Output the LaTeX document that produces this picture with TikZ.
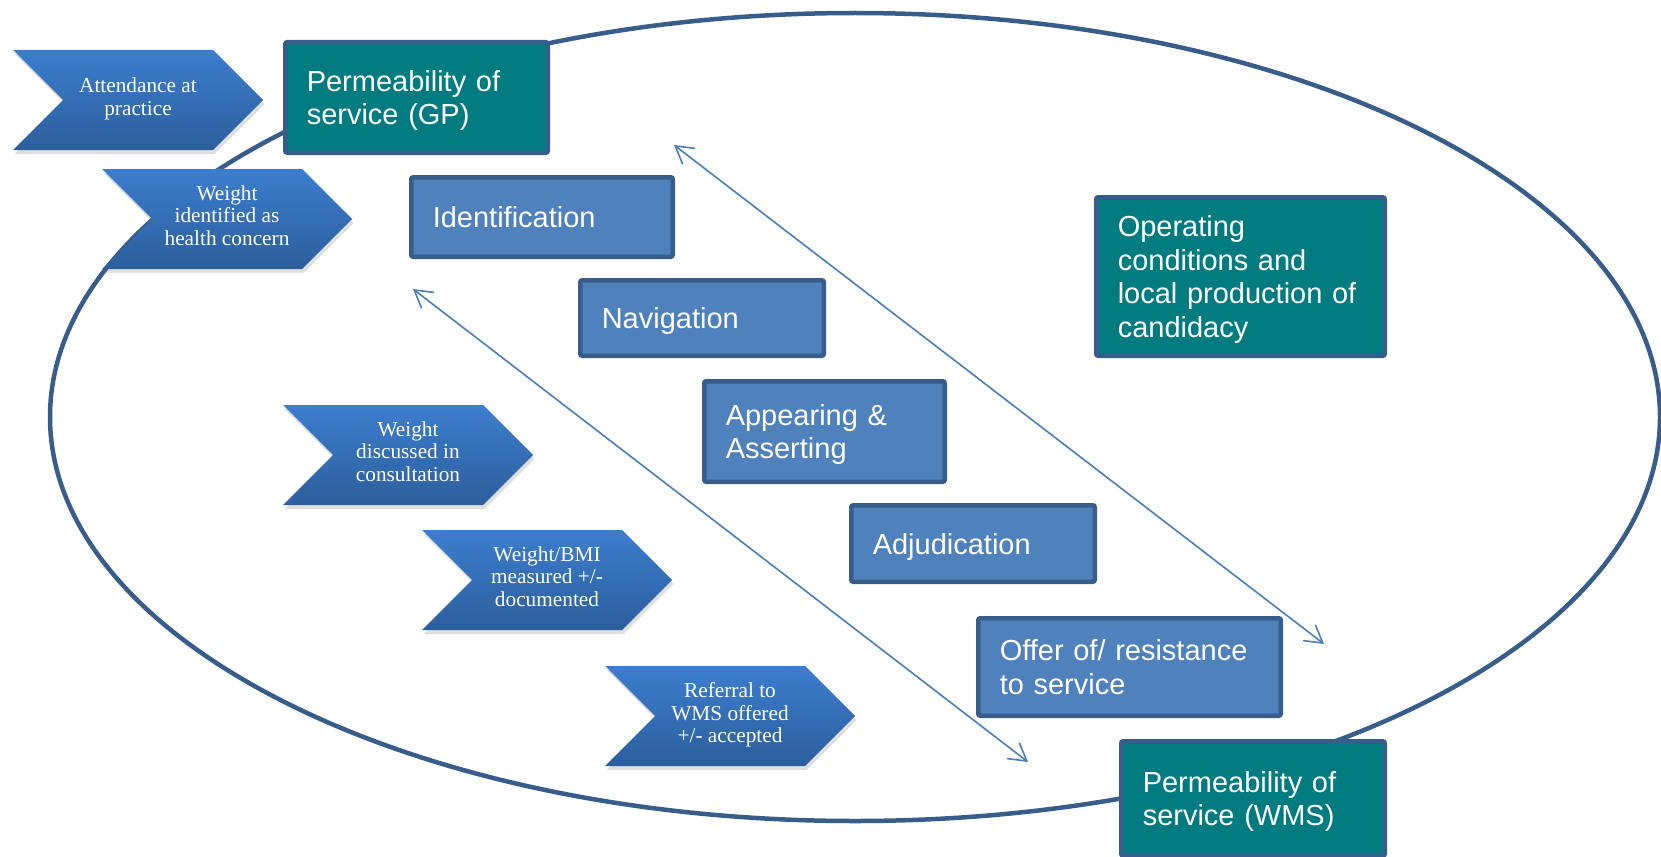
\documentclass[tikz,border=0pt]{standalone}
\usepackage{fontspec}
\setmainfont{Liberation Serif}
\newfontfamily\boxfont{Liberation Sans}
\usetikzlibrary{shapes.symbols,shadows,arrows.meta}
\pgfdeclarelayer{edgelayer}
\pgfdeclarelayer{nodelayer}
\pgfsetlayers{edgelayer,nodelayer,main}
\definecolor{rim}{RGB}{56,93,138}
\definecolor{stagefill}{RGB}{79,129,189}
\definecolor{tealfill}{RGB}{0,124,128}
\definecolor{chevtop}{RGB}{60,126,206}
\definecolor{chevbot}{RGB}{44,94,156}
\definecolor{arrowblue}{RGB}{74,126,187}
\newcommand\flatline[1]{\raisebox{0pt}[\height][0pt]{#1}}
\tikzstyle{none}=[inner sep=0pt]
\tikzstyle{stage}=[rectangle,draw=rim,fill=stagefill,line width=4.5pt,rounded corners=2pt,text=white,align=left,inner xsep=21.5pt,inner ysep=0pt,font=\boxfont\fontsize{29}{33.6}\selectfont]
\tikzstyle{perm}=[stage,fill=tealfill]
\tikzstyle{chev}=[signal,signal from=west,signal to=east,signal pointer angle=90,minimum width=250pt,minimum height=100pt,inner sep=0pt,top color=chevtop,bottom color=chevbot,text=white,align=center,font=\fontsize{21.3}{22.5}\selectfont,execute at end node={\rule[-7pt]{0pt}{7pt}},drop shadow={shadow xshift=1.5pt,shadow yshift=-4pt,opacity=0.25}]
\tikzstyle{ring}=[draw=rim,line width=4.5pt]
\tikzstyle{link}=[draw=arrowblue,line width=1.6pt,{Straight Barb[length=17pt,width=20pt]}-{Straight Barb[length=17pt,width=20pt]}]

\begin{document}
\begin{tikzpicture}[x=1pt,y=-1pt]
	\useasboundingbox (0,0) rectangle (1661,856);
	\begin{pgfonlayer}{nodelayer}
		\node [style=none] (0) at (855, 417) {};
		\node [style=chev] (1) at (138, 100) {Attendance at\\practice};
		\node [style=chev] (2) at (227, 219) {Weight\\identified as\\health concern};
		\node [style=chev] (3) at (408, 455) {Weight\\discussed in\\consultation};
		\node [style=chev] (4) at (547, 580) {Weight/BMI\\measured +/-\\documented};
		\node [style=chev] (5) at (730, 716) {Referral to\\WMS offered\\+/- accepted};
		\node [style=perm, text width=219.5pt, minimum height=110.5pt] (6) at (416.5, 97.5) {Permeability of\\\flatline{service (GP)}};
		\node [style=stage, text width=218.5pt, minimum height=79.5pt] (7) at (542, 217) {Identification};
		\node [style=stage, text width=200.5pt, minimum height=75.5pt] (8) at (702, 318) {\flatline{Navigation}};
		\node [style=stage, text width=197.5pt, minimum height=100.5pt] (9) at (824.5, 431.5) {Appearing \&\\\flatline{Asserting}};
		\node [style=stage, text width=200.5pt, minimum height=76.5pt] (10) at (973, 543.5) {\flatline{Adjudication}};
		\node [style=stage, text width=259.5pt, minimum height=97.5pt] (11) at (1129.5, 667) {Offer of/ resistance\\to service};
		\node [style=perm, text width=245.5pt, minimum height=158.5pt] (12) at (1240.5, 276.5) {Operating\\conditions and\\local production of\\\flatline{candidacy}};
		\node [style=perm, text width=220.5pt, minimum height=114.5pt] (13) at (1253, 798.5) {Permeability of\\\flatline{service (WMS)}};
		\node [style=none] (14) at (674, 145) {};
		\node [style=none] (15) at (1324, 644) {};
		\node [style=none] (16) at (413, 289) {};
		\node [style=none] (17) at (1028, 762) {};
	\end{pgfonlayer}
	\begin{pgfonlayer}{edgelayer}
		\draw [style=ring] (0.center) ellipse (805pt and 404pt);
		\draw [style=link] (14.center) to (15.center);
		\draw [style=link] (16.center) to (17.center);
	\end{pgfonlayer}
\end{tikzpicture}
\end{document}
